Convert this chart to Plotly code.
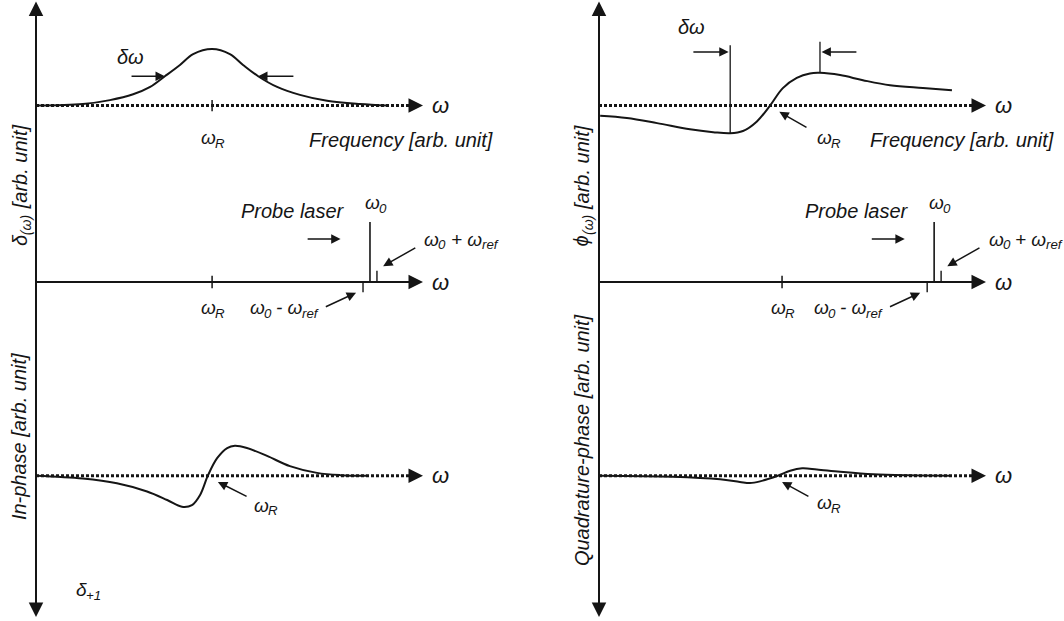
import plotly.graph_objects as go

# ---------------- data (frequency in arb. units, signal in arb. units) ----------------
# absorption line delta(omega), resonance at omega_R
abs_w = [0.0, 1.21, 1.91, 2.51, 2.95, 3.33, 3.72, 4.06, 4.55, 5.01, 5.35, 5.74, 6.23, 6.82, 7.52, 8.37, 9.07]
abs_v = [0.0, 0.027, 0.097, 0.20, 0.33, 0.52, 0.72, 0.91, 1.0, 0.91, 0.72, 0.52, 0.33, 0.19, 0.085, 0.027, 0.0]

# phase phi(omega)
phase_w = [0.03, 0.72, 1.50, 2.35, 2.95, 3.39, 3.72, 4.08, 4.42, 4.75, 5.11, 5.45, 5.71, 6.23, 6.82, 7.52, 8.37, 9.12]
phase_v = [-0.18, -0.22, -0.31, -0.42, -0.47, -0.49, -0.45, -0.28, 0.0, 0.31, 0.49, 0.57, 0.58, 0.54, 0.45, 0.36, 0.31, 0.27]

# in-phase demodulated signal
inph_w = [0.0, 1.21, 2.09, 2.87, 3.39, 3.77, 4.03, 4.24, 4.44, 4.68, 4.94, 5.14, 5.45, 5.97, 6.56, 7.26, 7.86, 8.55]
inph_v = [0.0, -0.05, -0.135, -0.28, -0.43, -0.55, -0.52, -0.34, 0.0, 0.31, 0.49, 0.53, 0.49, 0.35, 0.17, 0.05, 0.01, 0.0]

# quadrature-phase demodulated signal
quad_w = [0.03, 1.91, 3.13, 3.64, 3.90, 4.16, 4.62, 4.94, 5.25, 5.63, 6.23, 7.08, 7.96, 9.07]
quad_v = [0.0, -0.018, -0.064, -0.11, -0.13, -0.10, 0.0, 0.088, 0.13, 0.11, 0.07, 0.025, 0.007, 0.0]

# resonance position (tick) in each column
omega_R = {"left": 4.55, "right": 4.73}

# probe laser and its two sidebands: omega0 - omega_ref, omega0, omega0 + omega_ref
probe_w = {"left": [8.45, 8.63, 8.81], "right": [8.48, 8.66, 8.84]}
probe_h = [-0.18, 1.06, 0.20]

# linewidth markers on the phase curve (at its minimum and maximum)
width_w = [3.39, 5.71]
width_top = [1.07, 1.13]

AXIS_END = 10.0

# label texts: (text, is_subscript) runs
LBL_WR = [("ω", False), ("R", True)]
LBL_W0 = [("ω", False), ("0", True)]
LBL_PLUS = [("ω", False), ("0", True), (" + ω", False), ("ref", True)]
LBL_MINUS = [("ω", False), ("0", True), (" - ω", False), ("ref", True)]
LBL_D1 = [("δ", False), ("+1", True)]
LBL_DELTA = [("δ", False), ("(ω)", True), (" [arb. unit]", False)]
LBL_PHI = [("ϕ", False), ("(ω)", True), (" [arb. unit]", False)]

# ---------------- layout geometry ----------------
W, H = 1064, 621
PX_X = 38.7        # px per frequency unit
PX_Y = 56.5        # px per signal unit
ORIGIN_X = {"left": 36, "right": 599}
COL_DOMAIN = {"left": (0.0, 0.5), "right": (0.5, 1.0)}
BASELINES = [105.6, 282.0, 475.7]

INK = "#151515"
FONT = "Liberation Sans, Arial, sans-serif"
SUB_SCALE = 0.7

# advance widths (em) used to lay out subscript runs
CHAR_EM = {"ω": 0.74, "δ": 0.556, "ϕ": 0.56, "(": 0.333, ")": 0.333, "0": 0.556,
           "1": 0.556, "+": 0.584, "-": 0.333, " ": 0.278, "R": 0.722, "r": 0.333,
           "e": 0.556, "f": 0.278, "[": 0.278, "]": 0.278, "a": 0.556, "b": 0.556,
           ".": 0.278, "u": 0.556, "n": 0.556, "i": 0.222, "t": 0.278}

XA = {"left": "x", "right": "x2"}
YA = {"left": ["y", "y2", "y3"], "right": ["y4", "y5", "y6"]}

fig = go.Figure()
annotations = []


def text_w(s, size):
    return sum(CHAR_EM.get(c, 0.556) for c in s) * size


def line(xa, ya, xs, ys, width=2.0, dash=None, shape="linear"):
    fig.add_trace(go.Scatter(
        x=xs, y=ys, xaxis=xa, yaxis=ya, mode="lines",
        line=dict(color=INK, width=width, dash=dash, shape=shape, smoothing=1.0),
        hoverinfo="skip", showlegend=False))


def arrow(xa, ya, tail, head, width=1.5, size=1.25):
    annotations.append(dict(
        x=head[0], y=head[1], ax=tail[0], ay=tail[1],
        xref=xa, yref=ya, axref=xa, ayref=ya,
        text="", showarrow=True, arrowhead=2, arrowwidth=width, arrowsize=size,
        arrowcolor=INK))


def label(xa, ya, x, y, text, size=20, xanchor="center", angle=0):
    annotations.append(dict(
        x=x, y=y, xref=xa, yref=ya, text=text, showarrow=False,
        xanchor=xanchor, yanchor="middle", textangle=angle,
        font=dict(family=FONT, size=size, color=INK, style="italic")))


def rich(xa, ya, x, y, runs, size=19, align="center", angle=0):
    """Text with subscripts, laid out run by run along the reading direction."""
    widths = [text_w(t, size * SUB_SCALE if sub else size) for t, sub in runs]
    pos = -sum(widths) / 2 if align == "center" else 0.0
    for (t, sub), w in zip(runs, widths):
        fs = size * SUB_SCALE if sub else size
        lead = text_w(t[:len(t) - len(t.lstrip())], fs)
        shown = t.strip()
        drop = 0.31 * size if sub else 0.0
        ann = dict(x=x, y=y, xref=xa, yref=ya, text=shown, showarrow=False,
                   textangle=angle, borderpad=0,
                   font=dict(family=FONT, size=fs, color=INK, style="italic"))
        if angle == 0:
            ann.update(xanchor="left", yanchor="middle", xshift=pos + lead, yshift=-drop)
        else:  # text reading bottom-to-top
            ann.update(xanchor="center", yanchor="bottom", yshift=pos + lead, xshift=drop)
        annotations.append(ann)
        pos += w


def axis_line(xa, ya, dotted):
    if dotted:
        line(xa, ya, [0, AXIS_END - 0.3], [0, 0], width=3, dash="3px,2px")
        arrow(xa, ya, (AXIS_END - 0.4, 0), (AXIS_END, 0), width=2, size=1.45)
    else:
        line(xa, ya, [0, AXIS_END - 0.3], [0, 0], width=2)
        arrow(xa, ya, (AXIS_END - 0.4, 0), (AXIS_END, 0), width=2, size=1.45)
    label(xa, ya, AXIS_END + 0.44, 0, "ω", size=22)


for col in ("left", "right"):
    xa = XA[col]
    y1, y2, y3 = YA[col]
    wr = omega_R[col]

    # long vertical axis with arrowheads at both ends (drawn on the middle row's scale)
    top = (BASELINES[1] - 1.5) / PX_Y
    bottom = (BASELINES[1] - 617.0) / PX_Y
    line(xa, y2, [0, 0], [bottom + 0.2, top - 0.2], width=2)
    arrow(xa, y2, (0, top - 0.3), (0, top), width=2, size=1.45)
    arrow(xa, y2, (0, bottom + 0.3), (0, bottom), width=2, size=1.45)

    # ---- row 1: spectrum ----
    axis_line(xa, y1, dotted=True)
    if col == "left":
        line(xa, y1, abs_w, abs_v, width=2, shape="spline")
        line(xa, y1, [wr, wr], [-0.1, 0.1], width=1.5)
        label(xa, y1, 2.43, 0.86, "δω")
        arrow(xa, y1, (2.43, 0.52), (3.33, 0.52))
        arrow(xa, y1, (6.69, 0.52), (5.74, 0.52))
        rich(xa, y1, wr, -0.56, LBL_WR)
        label(xa, y1, 7.0, -0.61, "Frequency [arb. unit]", xanchor="left")
        rich(xa, y2, -0.41, 1.68, LBL_DELTA, size=20, angle=-90)
    else:
        line(xa, y1, phase_w, phase_v, width=2, shape="spline")
        for wx, tp in zip(width_w, width_top):
            bt = phase_v[phase_w.index(wx)]
            line(xa, y1, [wx, wx], [bt, tp], width=1.3)
        label(xa, y1, 2.40, 1.39, "δω")
        arrow(xa, y1, (2.40, 0.95), (3.35, 0.95))
        arrow(xa, y1, (6.69, 0.95), (5.75, 0.95))
        rich(xa, y1, 5.92, -0.57, LBL_WR)
        arrow(xa, y1, (5.40, -0.40), (4.66, -0.11))
        label(xa, y1, 6.95, -0.61, "Frequency [arb. unit]", xanchor="left")
        rich(xa, y2, -0.44, 1.68, LBL_PHI, size=20, angle=-90)

    # ---- row 2: probe laser and sidebands ----
    axis_line(xa, y2, dotted=False)
    line(xa, y2, [wr, wr], [-0.11, 0.11], width=1.5)
    pw = probe_w[col]
    for wx, h in zip(pw, probe_h):
        line(xa, y2, [wx, wx], [0, h], width=1.6 if h > 0.5 else 1.4)
    rich(xa, y2, wr, -0.46, LBL_WR)
    label(xa, y2, pw[1] - 2.0, 1.26, "Probe laser")
    rich(xa, y2, pw[1] + 0.12, 1.40, LBL_W0)
    arrow(xa, y2, (pw[1] - 1.65, 0.76), (pw[1] - 0.76, 0.76))
    rich(xa, y2, pw[2] + 1.2, 0.76, LBL_PLUS, align="left")
    arrow(xa, y2, (pw[2] + 1.03, 0.62), (pw[2] + 0.16, 0.28))
    rich(xa, y2, pw[0] - 2.08, -0.46, LBL_MINUS)
    arrow(xa, y2, (pw[0] - 1.0, -0.45), (pw[0] - 0.18, -0.19))

    # ---- row 3: demodulated signal ----
    axis_line(xa, y3, dotted=True)
    if col == "left":
        line(xa, y3, inph_w, inph_v, width=2, shape="spline")
        rich(xa, y3, 5.92, -0.52, LBL_WR)
        arrow(xa, y3, (5.48, -0.38), (4.70, -0.11))
        rich(xa, y3, 1.0, -2.02, LBL_D1, align="left")
        label(xa, y3, -0.44, 0.70, "In-phase [arb. unit]", angle=-90)
    else:
        line(xa, y3, quad_w, quad_v, width=2, shape="spline")
        rich(xa, y3, 5.92, -0.48, LBL_WR)
        arrow(xa, y3, (5.45, -0.38), (4.73, -0.11))
        label(xa, y3, -0.44, 0.63, "Quadrature-phase [arb. unit]", angle=-90)

layout = dict(
    width=W, height=H, margin=dict(l=0, r=0, t=0, b=0, pad=0),
    paper_bgcolor="white", plot_bgcolor="rgba(0,0,0,0)",
    showlegend=False, annotations=annotations,
)

for col in ("left", "right"):
    d0, d1 = COL_DOMAIN[col]
    span_px = (d1 - d0) * W
    left_px = d0 * W
    lo = -(ORIGIN_X[col] - left_px) / PX_X
    hi = lo + span_px / PX_X
    key = "xaxis" if XA[col] == "x" else "xaxis2"
    layout[key] = dict(domain=[d0, d1], range=[lo, hi], visible=False,
                       fixedrange=True, anchor=YA[col][0])
    for i, ya in enumerate(YA[col]):
        b = BASELINES[i]
        ykey = "yaxis" if ya == "y" else "yaxis" + ya[1:]
        cfg = dict(domain=[0, 1], range=[-(H - b) / PX_Y, b / PX_Y],
                   visible=False, fixedrange=True, anchor=XA[col])
        if ya not in ("y", "y4"):
            cfg["overlaying"] = YA[col][0]
        layout[ykey] = cfg

fig.update_layout(**layout)
fig.write_html("out.html", config={"displayModeBar": False})
